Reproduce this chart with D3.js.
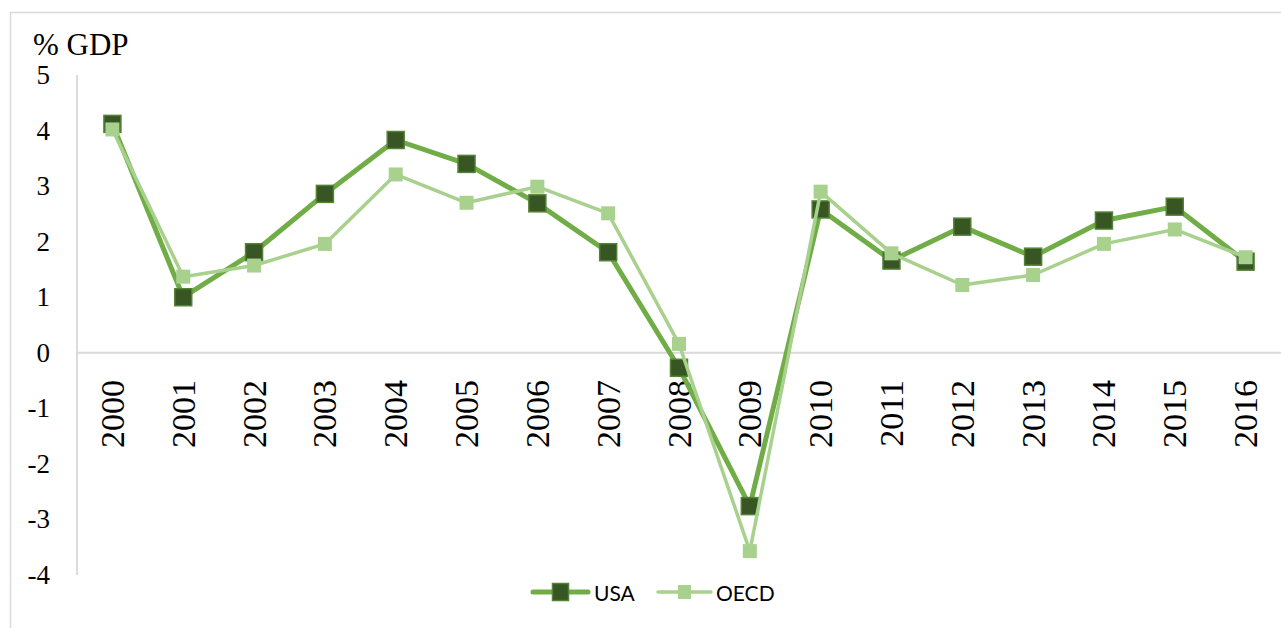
<!DOCTYPE html>
<html>
<head>
<meta charset="utf-8">
<script src="https://cdn.jsdelivr.net/npm/d3@7"></script>
<style>
  html, body { margin: 0; padding: 0; background: #fff; }
  svg { display: block; }
</style>
</head>
<body>
<svg id="chart" width="1281" height="628"></svg>
<script>
// Solde en % du PIB, USA vs OCDE, 2000-2016
const years = ['2000', '2001', '2002', '2003', '2004', '2005', '2006', '2007', '2008',
  '2009', '2010', '2011', '2012', '2013', '2014', '2015', '2016'];
const usa = [4.12, 1.00, 1.81, 2.86, 3.83, 3.40, 2.69, 1.81, -0.27, -2.76, 2.58, 1.66, 2.27, 1.73, 2.38, 2.63, 1.64];
const oecd = [4.02, 1.37, 1.57, 1.96, 3.21, 2.70, 2.99, 2.51, 0.16, -3.57, 2.90, 1.79, 1.22, 1.40, 1.96, 2.22, 1.72];
const yTicks = [5, 4, 3, 2, 1, 0, -1, -2, -3, -4];
const yLabel = '% GDP';

const W = 1281, H = 628;
const M = { left: 77, right: 0, top: 75, bottom: 53 };

const svg = d3.select('#chart');

// cadre de la zone du graphique
svg.append('rect')
  .attr('x', 10.5).attr('y', 12.5).attr('width', W + 10).attr('height', H + 10)
  .attr('fill', 'none').attr('stroke', '#d9d9d9').attr('stroke-width', 1.5);

const x = d3.scaleBand().domain(years).range([M.left, W - M.right]);
const y = d3.scaleLinear().domain([-4, 5]).range([H - M.bottom, M.top]);
const cx = d => x(d) + x.bandwidth() / 2;

// axe vertical
svg.append('line')
  .attr('x1', M.left).attr('x2', M.left)
  .attr('y1', y(5)).attr('y2', y(-4))
  .attr('stroke', '#d0d0d0').attr('stroke-width', 1.5);

// axe horizontal à zéro
svg.append('line')
  .attr('x1', M.left).attr('x2', W)
  .attr('y1', y(0)).attr('y2', y(0))
  .attr('stroke', '#d9d9d9').attr('stroke-width', 2);

const serif = '"Liberation Serif", "DejaVu Serif", serif';

svg.append('g').selectAll('text').data(yTicks).join('text')
  .attr('x', 50).attr('y', d => y(d))
  .attr('text-anchor', 'end').attr('dominant-baseline', 'central')
  .style('font-family', serif).style('font-size', '27px').style('fill', '#000')
  .text(d => d);

svg.append('text')
  .attr('x', 33).attr('y', 55)
  .style('font-family', serif).style('font-size', '31px').style('fill', '#000')
  .text(yLabel);

// étiquettes des années, tournées
svg.append('g').selectAll('text').data(years).join('text')
  .attr('transform', d => `translate(${cx(d)},380) rotate(-90)`)
  .attr('text-anchor', 'end').attr('dominant-baseline', 'central')
  .style('font-family', serif).style('font-size', '34px').style('fill', '#000')
  .text(d => d);

const series = [
  { name: 'USA', values: usa, line: '#70ad47', lw: 5, size: 17, fill: '#375623', stroke: '#548235' },
  { name: 'OECD', values: oecd, line: '#a9d18e', lw: 3.5, size: 14, fill: '#a9d18e', stroke: 'none' }
];

const lineGen = d3.line()
  .x((d, i) => cx(years[i]))
  .y(d => y(d));

series.forEach(s => {
  svg.append('path')
    .datum(s.values)
    .attr('d', lineGen)
    .attr('fill', 'none').attr('stroke', s.line).attr('stroke-width', s.lw)
    .attr('stroke-linejoin', 'round').attr('stroke-linecap', 'round');

  svg.append('g').selectAll('rect').data(s.values).join('rect')
    .attr('x', (d, i) => cx(years[i]) - s.size / 2)
    .attr('y', d => y(d) - s.size / 2)
    .attr('width', s.size).attr('height', s.size)
    .attr('fill', s.fill).attr('stroke', s.stroke).attr('stroke-width', 1.5);
});

// légende
const legendY = 592;
const legendItems = [
  { s: series[0], x0: 533, x1: 588, tx: 594 },
  { s: series[1], x0: 658, x1: 711, tx: 716 }
];
legendItems.forEach(it => {
  const g = svg.append('g');
  g.append('line')
    .attr('x1', it.x0).attr('x2', it.x1).attr('y1', legendY).attr('y2', legendY)
    .attr('stroke', it.s.line).attr('stroke-width', it.s.lw).attr('stroke-linecap', 'round');
  const mid = (it.x0 + it.x1) / 2;
  g.append('rect')
    .attr('x', mid - it.s.size / 2 + 0.5).attr('y', legendY - it.s.size / 2)
    .attr('width', it.s.size - 1).attr('height', it.s.size)
    .attr('fill', it.s.fill).attr('stroke', it.s.stroke).attr('stroke-width', 1.5);
  g.append('text')
    .attr('x', it.tx).attr('y', legendY)
    .attr('dominant-baseline', 'central')
    .style('font-family', 'Lato, "Open Sans", sans-serif').style('font-size', '21px').style('fill', '#000')
    .text(it.s.name);
});
</script>
</body>
</html>
